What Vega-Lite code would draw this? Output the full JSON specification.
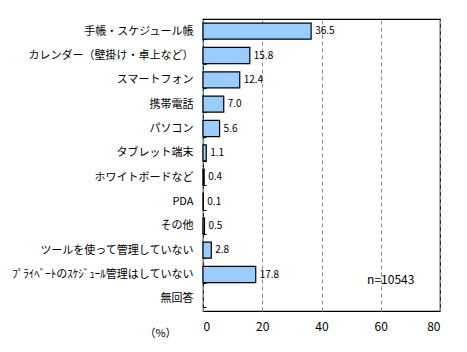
{
  "$schema": "https://vega.github.io/schema/vega-lite/v6.json",
  "width": 237,
  "height": 292,
  "autosize": "none",
  "padding": {"left": 203, "top": 19, "right": 27, "bottom": 41},
  "background": "white",
  "config": {
    "font": "Noto Sans CJK JP",
    "view": {"stroke": "black", "strokeWidth": 1.2}
  },
  "data": {
    "values": [
      {"cat": "手帳・スケジュール帳", "v": 36.5},
      {"cat": "カレンダー（壁掛け・卓上など）", "v": 15.8},
      {"cat": "スマートフォン", "v": 12.4},
      {"cat": "携帯電話", "v": 7.0},
      {"cat": "パソコン", "v": 5.6},
      {"cat": "タブレット端末", "v": 1.1},
      {"cat": "ホワイトボードなど", "v": 0.4},
      {"cat": "PDA", "v": 0.1},
      {"cat": "その他", "v": 0.5},
      {"cat": "ツールを使って管理していない", "v": 2.8},
      {"cat": "ﾌﾟﾗｲﾍﾞｰﾄのｽｹｼﾞｭｰﾙ管理はしていない", "v": 17.8, "note": "n=10543"},
      {"cat": "無回答", "v": null}
    ]
  },
  "encoding": {
    "y": {
      "field": "cat",
      "type": "nominal",
      "sort": null,
      "scale": {
        "domain": ["手帳・スケジュール帳", "カレンダー（壁掛け・卓上など）", "スマートフォン", "携帯電話", "パソコン", "タブレット端末", "ホワイトボードなど", "PDA", "その他", "ツールを使って管理していない", "ﾌﾟﾗｲﾍﾞｰﾄのｽｹｼﾞｭｰﾙ管理はしていない", "無回答"],
        "paddingInner": 0.34,
        "paddingOuter": 0.17
      },
      "axis": {
        "title": null,
        "domain": false,
        "grid": false,
        "tickBand": "extent",
        "tickSize": -3,
        "tickColor": "black",
        "labelPadding": 13,
        "labelFontSize": 11,
        "labelColor": "black",
        "labelLimit": 300
      }
    },
    "x": {
      "field": "v",
      "type": "quantitative",
      "scale": {"domain": [0, 80], "nice": false},
      "axis": {
        "values": [0, 20, 40, 60, 80],
        "domain": false,
        "ticks": false,
        "grid": true,
        "gridDash": [4, 3],
        "gridColor": "#888888",
        "gridWidth": 1,
        "labelPadding": 10,
        "labelFontSize": 12,
        "labelColor": "black",
        "title": "（%）",
        "titleFontSize": 11,
        "titleFontWeight": "normal",
        "titleColor": "black",
        "titleX": -43,
        "titleY": 22,
        "titleAlign": "center",
        "titleBaseline": "middle"
      }
    }
  },
  "layer": [
    {
      "mark": {"type": "bar", "fill": "#99CCFF", "stroke": "black", "strokeWidth": 1.2, "cornerRadius": 0}
    },
    {
      "mark": {"type": "text", "align": "left", "baseline": "middle", "dx": 4, "fontSize": 10, "color": "black"},
      "encoding": {
        "text": {"field": "v", "type": "quantitative", "format": ".1f"}
      }
    },
    {
      "transform": [{"filter": "isValid(datum.note)"}],
      "mark": {"type": "text", "align": "left", "baseline": "middle", "fontSize": 12, "color": "black", "dy": 5},
      "encoding": {
        "x": {"datum": 55.4, "type": "quantitative"},
        "text": {"field": "note", "type": "nominal"}
      }
    }
  ]
}
